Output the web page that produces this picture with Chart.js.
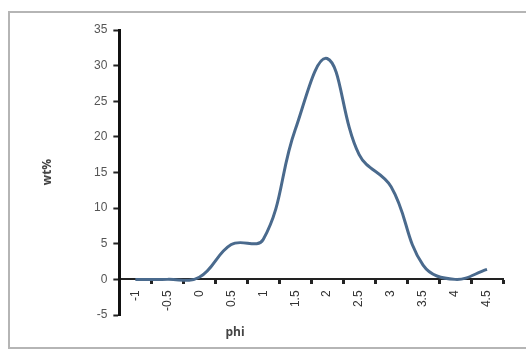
<!DOCTYPE html>
<html>
<head>
<meta charset="utf-8">
<script src="https://cdn.jsdelivr.net/npm/chart.js@4/dist/chart.umd.min.js"></script>
<style>
  html, body { margin: 0; padding: 0; background: #ffffff; }
  #wrap { position: relative; width: 526px; height: 352px; }
  #frame { position: absolute; left: 8px; top: 11px; width: 530px; height: 338px;
           border: 2px solid #b5b5b5; box-sizing: border-box; }
  canvas { position: absolute; left: 0; top: 0; }
</style>
</head>
<body>
<div id="wrap">
  <div id="frame"></div>
  <canvas id="c" width="526" height="352"></canvas>
</div>
<script>
// Grain-size classes (phi) and weight percent in each class
const phiLabels = ['-1', '-0.5', '0', '0.5', '1', '1.5', '2', '2.5', '3', '3.5', '4', '4.5'];
const wtPercent = [0, 0, 0.3, 4.9, 5.6, 21, 31, 17.5, 13, 2, 0, 1.4];
const yTicks = [-5, 0, 5, 10, 15, 20, 25, 30, 35];

const textColor = '#555555';

// Axis titles drawn at fixed spots beside the plot
const axisTitles = {
  id: 'axisTitles',
  afterDraw(chart) {
    const ctx = chart.ctx;
    ctx.save();
    ctx.fillStyle = '#444444';
    ctx.font = 'bold 12px "Open Sans", "DejaVu Sans", sans-serif';
    ctx.textAlign = 'center';
    ctx.textBaseline = 'middle';
    ctx.fillText('phi', 235, 333);
    ctx.translate(48, 172);
    ctx.rotate(-Math.PI / 2);
    ctx.fillText('wt%', 0, 0);
    ctx.restore();
  }
};

new Chart(document.getElementById('c'), {
  type: 'line',
  data: {
    labels: phiLabels,
    datasets: [{
      data: wtPercent,
      borderColor: '#4a6a8d',
      borderWidth: 3,
      pointRadius: 0,
      tension: 0.4,
      fill: false
    }]
  },
  options: {
    responsive: false,
    animation: false,
    layout: { padding: { left: 88, right: 23, top: 30, bottom: 37 } },
    plugins: { legend: { display: false }, tooltip: { enabled: false } },
    scales: {
      x: {
        type: 'category',
        position: { y: 0 },
        offset: true,
        grid: {
          offset: true,
          drawOnChartArea: false,
          drawTicks: true,
          tickLength: 4,
          tickWidth: 3,
          tickColor: '#222222'
        },
        border: { display: true, color: '#222222', width: 2 },
        ticks: {
          color: '#333333',
          minRotation: 90,
          maxRotation: 90,
          autoSkip: false,
          padding: 7,
          font: { family: 'Liberation Sans, Arial, sans-serif', size: 12 }
        }
      },
      y: {
        min: -5,
        max: 35,
        afterBuildTicks(axis) { axis.ticks = yTicks.map(v => ({ value: v })); },
        grid: {
          drawOnChartArea: false,
          drawTicks: true,
          tickLength: 6,
          tickWidth: 2,
          tickColor: '#222222'
        },
        border: { display: true, color: '#111111', width: 3 },
        ticks: {
          color: textColor,
          padding: 6,
          font: { family: 'Liberation Sans, Arial, sans-serif', size: 12 }
        }
      }
    }
  },
  plugins: [axisTitles]
});
</script>
</body>
</html>
